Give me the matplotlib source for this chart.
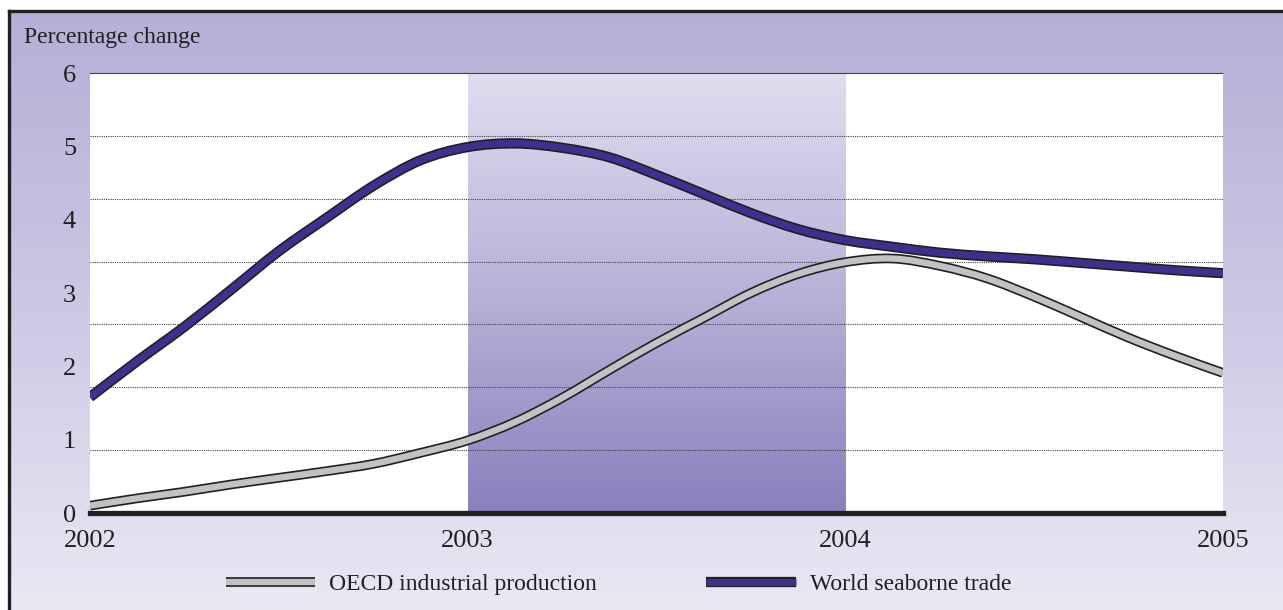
import numpy as np
import matplotlib
matplotlib.use("Agg")
import matplotlib.pyplot as plt
import matplotlib.patheffects as pe
from matplotlib.colors import LinearSegmentedColormap
from matplotlib.lines import Line2D
from matplotlib.path import Path
from matplotlib.patches import PathPatch

years = 2002 + np.arange(25) / 8
seaborne = [1.58, 2.07, 2.54, 3.05, 3.57, 4.02, 4.46, 4.81, 4.99, 5.04, 4.98, 4.85, 4.61,
            4.35, 4.09, 3.87, 3.72, 3.63, 3.55, 3.50, 3.46, 3.41, 3.36, 3.31, 3.27]
oecd = [0.10, 0.20, 0.29, 0.39, 0.48, 0.57, 0.67, 0.82, 0.99, 1.24, 1.57, 1.95, 2.32,
        2.66, 3.00, 3.26, 3.42, 3.47, 3.37, 3.20, 2.95, 2.67, 2.39, 2.14, 1.91]
x_ticks = [2002, 2003, 2004, 2005]
y_ticks = [0, 1, 2, 3, 4, 5, 6]
band = (2003, 2004)

plt.rcParams['font.family'] = ['Liberation Serif', 'DejaVu Serif']
INK = "#231f20"


def smooth_path(x, y):
    # Catmull-Rom through the points, drawn as cubic Bezier segments
    p = np.column_stack([x, y])
    ext = np.vstack([p[0], p, p[-1]])
    verts = [p[0]]
    codes = [Path.MOVETO]
    for i in range(len(p) - 1):
        c1 = ext[i + 1] + (ext[i + 2] - ext[i]) / 6
        c2 = ext[i + 2] - (ext[i + 3] - ext[i + 1]) / 6
        verts += [c1, c2, ext[i + 2]]
        codes += [Path.CURVE4] * 3
    return Path(verts, codes)


def outline(lw):
    return [pe.Stroke(linewidth=lw + 2.4, foreground=INK), pe.Normal()]


def draw_series(ax, x, y, color, lw, z):
    patch = PathPatch(smooth_path(x, y), fill=False, edgecolor=color, lw=lw,
                      capstyle="butt", zorder=z, path_effects=outline(lw))
    ax.add_patch(patch)


fig = plt.figure(figsize=(12.83, 6.10), dpi=100, facecolor="white")

# lavender gradient background with black frame at top/left
bg_left, bg_top = 10 / 1283, 1 - 12 / 610
bg = fig.add_axes([bg_left, 0, 1 - bg_left, bg_top])
bg_cmap = LinearSegmentedColormap.from_list("bg", ["#b6aed7", "#cdc8e4", "#eae8f4"])
bg.imshow(np.linspace(0, 1, 256).reshape(-1, 1), cmap=bg_cmap, aspect="auto",
          extent=[0, 1, 0, 1])
bg.axis("off")
fig.add_artist(Line2D([bg_left - 1 / 1283, 1], [bg_top + 1 / 610] * 2, color=INK, lw=2.4))
fig.add_artist(Line2D([bg_left - 1 / 1283] * 2, [0, bg_top + 1 / 610], color=INK, lw=2.4))

ax = fig.add_axes([90 / 1283, 1 - 513 / 610, (1223 - 90) / 1283, (513 - 73) / 610])
ax.set_facecolor("white")
ax.set_xlim(2002, 2005)
ax.set_ylim(0, 6)

# shaded 2003-2004 period, light at top, darker at bottom
band_cmap = LinearSegmentedColormap.from_list("band", ["#e0ddef", "#b9b1d8", "#8b7fbd"])
ax.imshow(np.linspace(0, 1, 256).reshape(-1, 1), cmap=band_cmap, aspect="auto",
          extent=[band[0], band[1], 0, 6], zorder=0.5)

# dotted gridlines (7 divisions, as in the original)
ax.set_yticks(np.linspace(0, 6, 8), minor=True)
ax.grid(which="minor", axis="y", color="#444444", linestyle=(0, (1, 1)), lw=0.8, zorder=1)
ax.set_yticks(y_ticks)
ax.set_yticklabels([str(v) for v in y_ticks], fontsize=19, color=INK)
ax.set_xticks(x_ticks)
ax.set_xticklabels([str(v) for v in x_ticks], fontsize=19, color=INK)
ax.tick_params(which="both", length=0)
ax.tick_params(axis="y", pad=10)
ax.tick_params(axis="x", pad=12)

for s in ["right", "left"]:
    ax.spines[s].set_visible(False)
ax.spines["top"].set_linestyle((0, (1, 1)))
ax.spines["top"].set_linewidth(0.8)
ax.spines["top"].set_color("#444444")
ax.spines["bottom"].set_linewidth(3.8)
ax.spines["bottom"].set_color(INK)
ax.spines["bottom"].set_zorder(5)

draw_series(ax, years, oecd, "#c2c2c4", 4.6, 3)
draw_series(ax, years, seaborne, "#3d3190", 5.0, 4)

fig.text(24 / 1283, 1 - 38 / 610, "Percentage change", fontsize=17, color=INK,
         va="center", ha="left")

handles = [
    Line2D([], [], color="#c2c2c4", lw=4.6, solid_capstyle="butt", path_effects=outline(4.6)),
    Line2D([], [], color="#3d3190", lw=5.0, solid_capstyle="butt", path_effects=outline(5.0)),
]
fig.legend(handles, ["OECD industrial production", "World seaborne trade"],
           loc="center", bbox_to_anchor=(0.482, 1 - 584 / 610), ncol=2, frameon=False,
           fontsize=17, handlelength=3.8, handletextpad=0.6, columnspacing=4.6,
           labelcolor=INK)

fig.savefig("out.png", dpi=100, facecolor=fig.get_facecolor())
